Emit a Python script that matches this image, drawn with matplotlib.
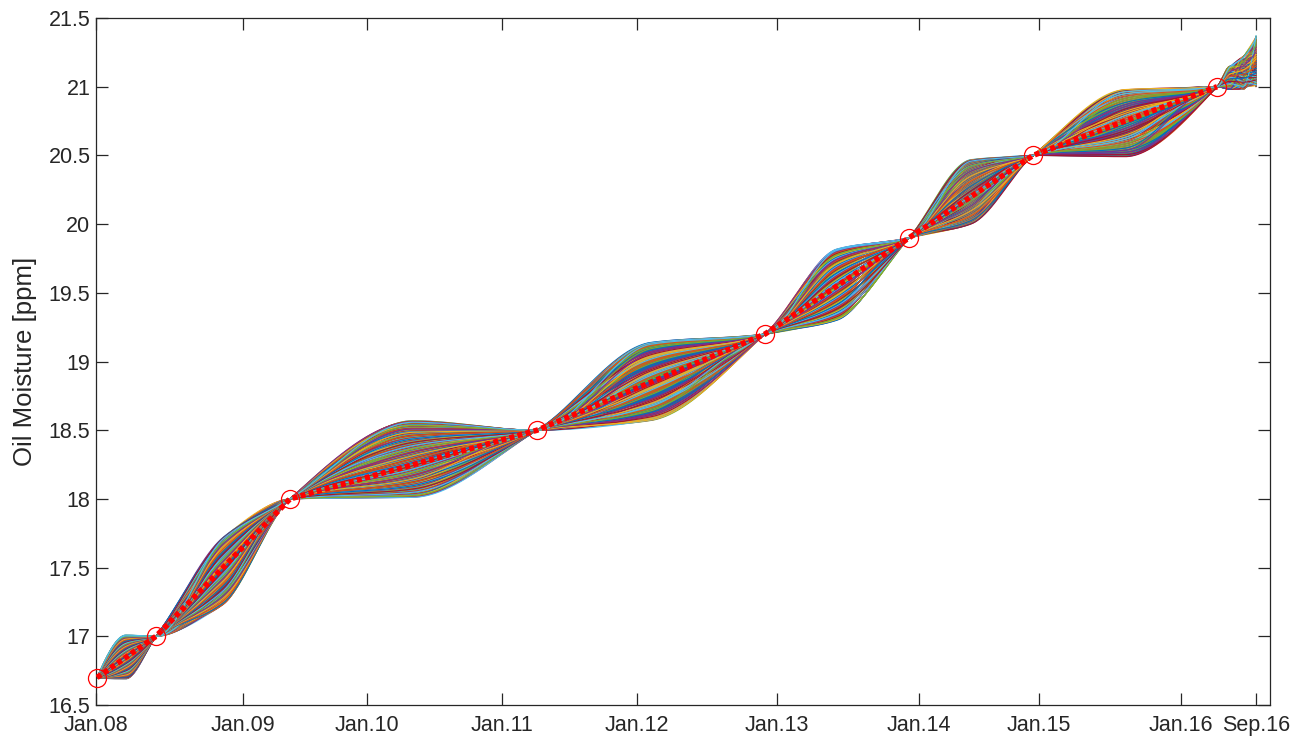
import numpy as np
import matplotlib.pyplot as plt

plt.rcParams['font.family'] = ['Liberation Sans', 'DejaVu Sans']

# anchor measurements (sample index, moisture in ppm)
knot_x = [1, 60, 194, 441, 669, 813, 937, 1121]
knot_y = [16.7, 17.0, 18.0, 18.5, 19.2, 19.9, 20.5, 21.0]

# spread of the simulated paths between two anchors (lowest / highest value)
mid_x = [30, 127, 317, 555, 741, 875, 1029]
mid_lo = [16.69, 17.23, 18.01, 18.57, 19.30, 20.00, 20.49]
mid_hi = [17.01, 17.72, 18.57, 19.14, 19.82, 20.47, 20.98]

# spread of the paths after the last anchor
tail_x = [1134, 1147, 1160]
tail_lo = [20.98, 20.98, 21.00]
tail_hi = [21.15, 21.22, 21.37]

tick_x = [0, 147, 271, 406, 541, 681, 823, 943, 1085, 1160]
tick_labels = ['Jan.08', 'Jan.09', 'Jan.10', 'Jan.11', 'Jan.12', 'Jan.13',
               'Jan.14', 'Jan.15', 'Jan.16', 'Sep.16']
y_ticks = [16.5, 17, 17.5, 18, 18.5, 19, 19.5, 20, 20.5, 21, 21.5]

n_paths = 300
matlab_colors = ['#0072BD', '#D95319', '#EDB120', '#7E2F8E',
                 '#77AC30', '#4DBEEE', '#A2142F']


def pchip(x, y, xs):
    '''
    shape preserving piecewise cubic, same as matlab's pchip
    '''
    x = np.asarray(x, float)
    y = np.asarray(y, float)
    h = np.diff(x)
    d = np.diff(y) / h
    m = np.zeros_like(y)
    for k in range(1, len(x) - 1):
        if d[k - 1] * d[k] > 0:
            w1 = 2 * h[k] + h[k - 1]
            w2 = h[k] + 2 * h[k - 1]
            m[k] = (w1 + w2) / (w1 / d[k - 1] + w2 / d[k])

    def end_slope(h0, h1, d0, d1):
        s = ((2 * h0 + h1) * d0 - h0 * d1) / (h0 + h1)
        if np.sign(s) != np.sign(d0):
            s = 0.0
        elif np.sign(d0) != np.sign(d1) and abs(s) > 3 * abs(d0):
            s = 3 * d0
        return s

    m[0] = end_slope(h[0], h[1], d[0], d[1])
    m[-1] = end_slope(h[-1], h[-2], d[-1], d[-2])

    i = np.clip(np.searchsorted(x, xs) - 1, 0, len(h) - 1)
    t = (xs - x[i]) / h[i]
    h00 = 2 * t**3 - 3 * t**2 + 1
    h10 = t**3 - 2 * t**2 + t
    h01 = -2 * t**3 + 3 * t**2
    h11 = t**3 - t**2
    return h00 * y[i] + h10 * h[i] * m[i] + h01 * y[i + 1] + h11 * h[i] * m[i + 1]


fig = plt.figure(figsize=(13.06, 7.38), dpi=100)
ax = fig.add_axes([0.0735, 0.0447, 0.899, 0.9309])

spread_x = mid_x + tail_x
spread_lo = mid_lo + tail_lo
spread_hi = mid_hi + tail_hi
steps = [7, 11, 13, 17, 19, 23, 29, 31, 37, 41]

xs = np.linspace(knot_x[0], tail_x[-1], 1600)
for k in range(n_paths):
    px = list(knot_x)
    py = list(knot_y)
    for j in range(len(spread_x)):
        u = ((k * steps[j] + 3 * j) % n_paths + 0.5) / n_paths
        px.append(spread_x[j])
        py.append(spread_lo[j] + u * (spread_hi[j] - spread_lo[j]))
    order = np.argsort(px)
    ys = pchip(np.array(px)[order], np.array(py)[order], xs)
    ax.plot(xs, ys, color=matlab_colors[k % 7], lw=0.8)

# mean path through the anchors
ax.plot(knot_x, knot_y, color='red', lw=4, linestyle=(0, (0.9, 0.6)),
        zorder=4)
ax.plot(knot_x, knot_y, 'o', mfc='none', mec='red', ms=13, mew=0.9,
        clip_on=False, zorder=5)

ax.set_xlim(0, 1174)
ax.set_ylim(16.5, 21.5)
ax.set_xticks(tick_x)
ax.set_xticklabels(tick_labels)
ax.set_yticks(y_ticks)
ax.set_yticklabels([f'{v:g}' for v in y_ticks])
ax.set_ylabel('Oil Moisture [ppm]', fontsize=18.5, color='#262626', labelpad=8)

for s in ax.spines.values():
    s.set_color('#262626')
    s.set_linewidth(0.9)
ax.tick_params(direction='in', length=8.5, width=0.9, top=True, right=True,
               labelsize=15.5, colors='#262626')
ax.tick_params(axis='x', pad=7.5)
ax.tick_params(axis='y', pad=4)

fig.savefig('out.png', dpi=100)
